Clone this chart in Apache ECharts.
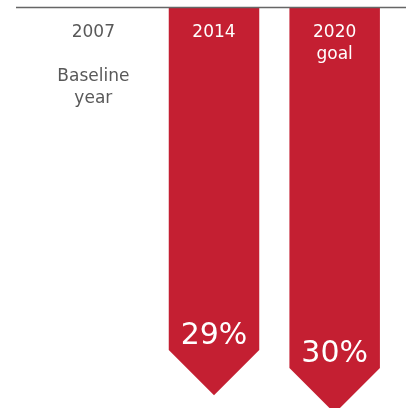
<!DOCTYPE html>
<html>
<head>
<meta charset="utf-8">
<script src="https://cdn.jsdelivr.net/npm/echarts@6/dist/echarts.min.js"></script>
<style>
html,body{margin:0;padding:0;background:#fff;}
#chart{width:406px;height:408px;}
</style>
</head>
<body>
<div id="chart"></div>
<script>
const years = ['2007', '2014', '2020'];
const notes = ['Baseline\nyear', '', 'goal'];
const reductions = [null, 29, 30];
const pctLabels = ['', '29%', '30%'];

const RED = '#C41F32';
const GRAY = '#595959';
const FONT = 'DejaVu Sans';
const Y_MIN = 10, Y_MAX = 32;

const chart = echarts.init(document.getElementById('chart'), null, {renderer: 'canvas'});

const barData = reductions.map((v, i) => [i, v, pctLabels[i]]).filter(d => d[1] != null);

chart.setOption({
  animation: false,
  backgroundColor: '#fff',
  grid: {left: 33, right: 11, top: 8, bottom: 4},
  xAxis: {
    type: 'category',
    data: years,
    position: 'top',
    axisLine: {show: false},
    axisTick: {show: false},
    splitLine: {show: false},
    axisLabel: {
      inside: true,
      interval: 0,
      margin: 13.5,
      fontFamily: FONT,
      fontSize: 17,
      lineHeight: 22,
      color: (v, i) => (reductions[i] == null ? GRAY : '#fff'),
      formatter: (v, i) => {
        if (i === 0) return v + '\n\n' + notes[i];
        return notes[i] ? v + '\n' + notes[i] : v;
      }
    },
    z: 10
  },
  yAxis: {
    type: 'value',
    inverse: true,
    min: Y_MIN,
    max: Y_MAX,
    show: false
  },
  series: [{
    type: 'custom',
    clip: false,
    z: 2,
    data: barData,
    renderItem: (params, api) => {
      const idx = api.value(0);
      const val = api.value(1);
      const top = api.coord([idx, Y_MIN]);
      const sh = api.coord([idx, val]);
      const w = api.size([1, 0])[0] * 0.75;
      const x = sh[0];
      const h = w / 2;
      return {
        type: 'group',
        children: [{
          type: 'polygon',
          shape: {points: [[x - h, top[1]], [x + h, top[1]], [x + h, sh[1]], [x, sh[1] + h], [x - h, sh[1]]]},
          style: {fill: RED}
        }, {
          type: 'text',
          style: {
            text: barData[params.dataIndex][2],
            x: x, y: sh[1] - 14,
            align: 'center', verticalAlign: 'middle',
            fill: '#fff', fontFamily: FONT, fontSize: 30
          }
        }]
      };
    }
  }],
  graphic: [{
    type: 'line',
    z: 100,
    shape: {x1: 16, y1: 7.5, x2: 406, y2: 7.5},
    style: {stroke: '#666', lineWidth: 1.5}
  }]
});
</script>
</body>
</html>
